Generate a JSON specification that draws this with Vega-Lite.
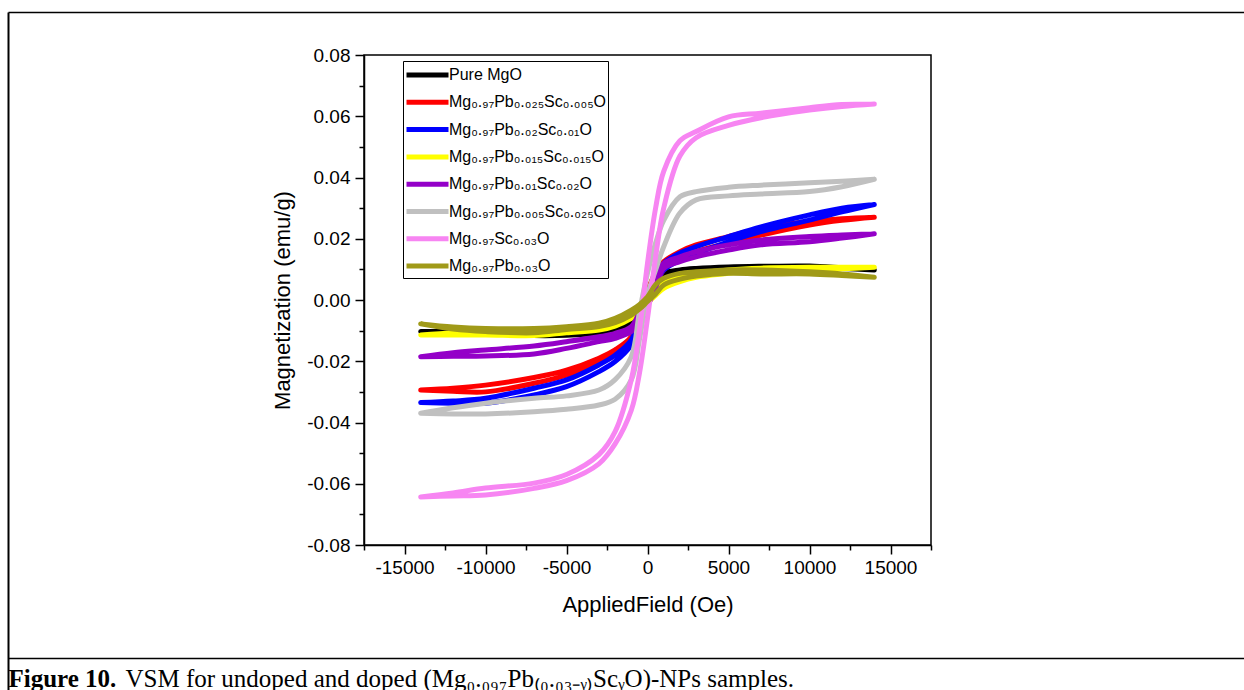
{
  "$schema": "https://vega.github.io/schema/vega-lite/v6.json",
  "width": 567,
  "height": 490,
  "autosize": {"type": "none"},
  "padding": {"left": 364, "top": 55, "right": 313, "bottom": 145},
  "background": "white",
  "config": {
    "view": {"stroke": "black", "strokeWidth": 1.5},
    "font": "Liberation Sans",
    "axis": {"grid": false, "domainColor": "black", "tickColor": "black", "labelColor": "black", "titleColor": "black", "domainWidth": 1.5, "tickWidth": 1.5, "labelFont": "Liberation Sans", "titleFont": "Liberation Sans", "titleFontWeight": "normal", "labelFontSize": 19, "titleFontSize": 22}
  },
  "datasets": {
    "vsm": [
      {"s":"a","i":0,"H":14000,"M":0.0098},{"s":"a","i":1,"H":12000,"M":0.0105},{"s":"a","i":2,"H":10000,"M":0.0111},{"s":"a","i":3,"H":7000,"M":0.011},{"s":"a","i":4,"H":5000,"M":0.0108},{"s":"a","i":5,"H":3000,"M":0.0103},{"s":"a","i":6,"H":2000,"M":0.0098},{"s":"a","i":7,"H":1000,"M":0.0087},{"s":"a","i":8,"H":500,"M":0.006},{"s":"a","i":9,"H":0,"M":0.001},{"s":"a","i":10,"H":-500,"M":-0.004},{"s":"a","i":11,"H":-1000,"M":-0.0076},{"s":"a","i":12,"H":-2000,"M":-0.009},{"s":"a","i":13,"H":-3000,"M":-0.0103},{"s":"a","i":14,"H":-5000,"M":-0.0112},{"s":"a","i":15,"H":-7000,"M":-0.0114},{"s":"a","i":16,"H":-10000,"M":-0.0105},{"s":"a","i":17,"H":-12000,"M":-0.0103},{"s":"a","i":18,"H":-14000,"M":-0.0103},
      {"s":"a","i":19,"H":-14000,"M":-0.0103},{"s":"a","i":20,"H":-12000,"M":-0.0106},{"s":"a","i":21,"H":-10000,"M":-0.0108},{"s":"a","i":22,"H":-7000,"M":-0.0116},{"s":"a","i":23,"H":-5000,"M":-0.0115},{"s":"a","i":24,"H":-3000,"M":-0.0108},{"s":"a","i":25,"H":-2000,"M":-0.0098},{"s":"a","i":26,"H":-1000,"M":-0.0085},{"s":"a","i":27,"H":-500,"M":-0.006},{"s":"a","i":28,"H":0,"M":-0.001},{"s":"a","i":29,"H":500,"M":0.004},{"s":"a","i":30,"H":1000,"M":0.0075},{"s":"a","i":31,"H":2000,"M":0.009},{"s":"a","i":32,"H":3000,"M":0.0098},{"s":"a","i":33,"H":5000,"M":0.0103},{"s":"a","i":34,"H":7000,"M":0.0105},{"s":"a","i":35,"H":10000,"M":0.0106},{"s":"a","i":36,"H":12000,"M":0.0103},{"s":"a","i":37,"H":14000,"M":0.0098},

      {"s":"b","i":0,"H":14000,"M":0.027},{"s":"b","i":1,"H":12000,"M":0.0265},{"s":"b","i":2,"H":10000,"M":0.0256},{"s":"b","i":3,"H":7000,"M":0.0234},{"s":"b","i":4,"H":5000,"M":0.0207},{"s":"b","i":5,"H":3000,"M":0.018},{"s":"b","i":6,"H":2000,"M":0.0158},{"s":"b","i":7,"H":1000,"M":0.0125},{"s":"b","i":8,"H":500,"M":0.009},{"s":"b","i":9,"H":0,"M":0.003},{"s":"b","i":10,"H":-500,"M":-0.005},{"s":"b","i":11,"H":-1000,"M":-0.012},{"s":"b","i":12,"H":-2000,"M":-0.0163},{"s":"b","i":13,"H":-3000,"M":-0.019},{"s":"b","i":14,"H":-5000,"M":-0.0229},{"s":"b","i":15,"H":-7000,"M":-0.0253},{"s":"b","i":16,"H":-10000,"M":-0.0278},{"s":"b","i":17,"H":-12000,"M":-0.0288},{"s":"b","i":18,"H":-14000,"M":-0.0294},
      {"s":"b","i":19,"H":-14000,"M":-0.0294},{"s":"b","i":20,"H":-12000,"M":-0.0298},{"s":"b","i":21,"H":-10000,"M":-0.03},{"s":"b","i":22,"H":-7000,"M":-0.0272},{"s":"b","i":23,"H":-5000,"M":-0.0245},{"s":"b","i":24,"H":-3000,"M":-0.0207},{"s":"b","i":25,"H":-2000,"M":-0.018},{"s":"b","i":26,"H":-1000,"M":-0.0136},{"s":"b","i":27,"H":-500,"M":-0.009},{"s":"b","i":28,"H":0,"M":-0.002},{"s":"b","i":29,"H":500,"M":0.005},{"s":"b","i":30,"H":1000,"M":0.0098},{"s":"b","i":31,"H":2000,"M":0.0136},{"s":"b","i":32,"H":3000,"M":0.0158},{"s":"b","i":33,"H":5000,"M":0.0186},{"s":"b","i":34,"H":7000,"M":0.0212},{"s":"b","i":35,"H":10000,"M":0.0245},{"s":"b","i":36,"H":12000,"M":0.026},{"s":"b","i":37,"H":14000,"M":0.027},

      {"s":"c","i":0,"H":14000,"M":0.0312},{"s":"c","i":1,"H":12000,"M":0.03},{"s":"c","i":2,"H":10000,"M":0.0278},{"s":"c","i":3,"H":7000,"M":0.0239},{"s":"c","i":4,"H":5000,"M":0.0207},{"s":"c","i":5,"H":3000,"M":0.0174},{"s":"c","i":6,"H":2000,"M":0.0153},{"s":"c","i":7,"H":1000,"M":0.012},{"s":"c","i":8,"H":500,"M":0.008},{"s":"c","i":9,"H":0,"M":0.002},{"s":"c","i":10,"H":-500,"M":-0.005},{"s":"c","i":11,"H":-1000,"M":-0.013},{"s":"c","i":12,"H":-2000,"M":-0.018},{"s":"c","i":13,"H":-3000,"M":-0.0212},{"s":"c","i":14,"H":-5000,"M":-0.0261},{"s":"c","i":15,"H":-7000,"M":-0.0288},{"s":"c","i":16,"H":-10000,"M":-0.0321},{"s":"c","i":17,"H":-12000,"M":-0.033},{"s":"c","i":18,"H":-14000,"M":-0.0335},
      {"s":"c","i":19,"H":-14000,"M":-0.0335},{"s":"c","i":20,"H":-12000,"M":-0.0337},{"s":"c","i":21,"H":-10000,"M":-0.0337},{"s":"c","i":22,"H":-7000,"M":-0.031},{"s":"c","i":23,"H":-5000,"M":-0.0283},{"s":"c","i":24,"H":-3000,"M":-0.0234},{"s":"c","i":25,"H":-2000,"M":-0.0201},{"s":"c","i":26,"H":-1000,"M":-0.0147},{"s":"c","i":27,"H":-500,"M":-0.009},{"s":"c","i":28,"H":0,"M":-0.002},{"s":"c","i":29,"H":500,"M":0.005},{"s":"c","i":30,"H":1000,"M":0.0098},{"s":"c","i":31,"H":2000,"M":0.013},{"s":"c","i":32,"H":3000,"M":0.0152},{"s":"c","i":33,"H":5000,"M":0.019},{"s":"c","i":34,"H":7000,"M":0.0223},{"s":"c","i":35,"H":10000,"M":0.0261},{"s":"c","i":36,"H":12000,"M":0.0288},{"s":"c","i":37,"H":14000,"M":0.0312},

      {"s":"d","i":0,"H":14000,"M":0.0107},{"s":"d","i":1,"H":12000,"M":0.0107},{"s":"d","i":2,"H":10000,"M":0.0107},{"s":"d","i":3,"H":7000,"M":0.0104},{"s":"d","i":4,"H":5000,"M":0.0098},{"s":"d","i":5,"H":3000,"M":0.0087},{"s":"d","i":6,"H":2000,"M":0.0076},{"s":"d","i":7,"H":1000,"M":0.006},{"s":"d","i":8,"H":500,"M":0.004},{"s":"d","i":9,"H":0,"M":0.0005},{"s":"d","i":10,"H":-500,"M":-0.002},{"s":"d","i":11,"H":-1000,"M":-0.0044},{"s":"d","i":12,"H":-2000,"M":-0.0071},{"s":"d","i":13,"H":-3000,"M":-0.0087},{"s":"d","i":14,"H":-5000,"M":-0.0098},{"s":"d","i":15,"H":-7000,"M":-0.0105},{"s":"d","i":16,"H":-10000,"M":-0.0105},{"s":"d","i":17,"H":-12000,"M":-0.0108},{"s":"d","i":18,"H":-14000,"M":-0.0114},
      {"s":"d","i":19,"H":-14000,"M":-0.0114},{"s":"d","i":20,"H":-12000,"M":-0.0114},{"s":"d","i":21,"H":-10000,"M":-0.0114},{"s":"d","i":22,"H":-7000,"M":-0.0116},{"s":"d","i":23,"H":-5000,"M":-0.0107},{"s":"d","i":24,"H":-3000,"M":-0.0098},{"s":"d","i":25,"H":-2000,"M":-0.0085},{"s":"d","i":26,"H":-1000,"M":-0.006},{"s":"d","i":27,"H":-500,"M":-0.004},{"s":"d","i":28,"H":0,"M":-0.001},{"s":"d","i":29,"H":500,"M":0.0015},{"s":"d","i":30,"H":1000,"M":0.0038},{"s":"d","i":31,"H":2000,"M":0.006},{"s":"d","i":32,"H":3000,"M":0.0074},{"s":"d","i":33,"H":5000,"M":0.0087},{"s":"d","i":34,"H":7000,"M":0.0098},{"s":"d","i":35,"H":10000,"M":0.0098},{"s":"d","i":36,"H":12000,"M":0.0102},{"s":"d","i":37,"H":14000,"M":0.0107},

      {"s":"e","i":0,"H":14000,"M":0.0216},{"s":"e","i":1,"H":12000,"M":0.0212},{"s":"e","i":2,"H":10000,"M":0.0207},{"s":"e","i":3,"H":7000,"M":0.0196},{"s":"e","i":4,"H":5000,"M":0.018},{"s":"e","i":5,"H":3000,"M":0.0158},{"s":"e","i":6,"H":2000,"M":0.0141},{"s":"e","i":7,"H":1000,"M":0.012},{"s":"e","i":8,"H":500,"M":0.008},{"s":"e","i":9,"H":0,"M":0.002},{"s":"e","i":10,"H":-500,"M":-0.004},{"s":"e","i":11,"H":-1000,"M":-0.0087},{"s":"e","i":12,"H":-2000,"M":-0.0109},{"s":"e","i":13,"H":-3000,"M":-0.012},{"s":"e","i":14,"H":-5000,"M":-0.0136},{"s":"e","i":15,"H":-7000,"M":-0.015},{"s":"e","i":16,"H":-10000,"M":-0.0163},{"s":"e","i":17,"H":-12000,"M":-0.0172},{"s":"e","i":18,"H":-14000,"M":-0.0185},
      {"s":"e","i":19,"H":-14000,"M":-0.0185},{"s":"e","i":20,"H":-12000,"M":-0.0184},{"s":"e","i":21,"H":-10000,"M":-0.0183},{"s":"e","i":22,"H":-7000,"M":-0.0176},{"s":"e","i":23,"H":-5000,"M":-0.0158},{"s":"e","i":24,"H":-3000,"M":-0.0136},{"s":"e","i":25,"H":-2000,"M":-0.0125},{"s":"e","i":26,"H":-1000,"M":-0.0103},{"s":"e","i":27,"H":-500,"M":-0.007},{"s":"e","i":28,"H":0,"M":-0.002},{"s":"e","i":29,"H":500,"M":0.004},{"s":"e","i":30,"H":1000,"M":0.0103},{"s":"e","i":31,"H":2000,"M":0.0125},{"s":"e","i":32,"H":3000,"M":0.0141},{"s":"e","i":33,"H":5000,"M":0.0163},{"s":"e","i":34,"H":7000,"M":0.018},{"s":"e","i":35,"H":10000,"M":0.019},{"s":"e","i":36,"H":12000,"M":0.0202},{"s":"e","i":37,"H":14000,"M":0.0216},

      {"s":"f","i":0,"H":14000,"M":0.0394},{"s":"f","i":1,"H":12000,"M":0.0388},{"s":"f","i":2,"H":10000,"M":0.0383},{"s":"f","i":3,"H":7000,"M":0.0375},{"s":"f","i":4,"H":5000,"M":0.0368},{"s":"f","i":5,"H":3000,"M":0.0354},{"s":"f","i":6,"H":2000,"M":0.0337},{"s":"f","i":7,"H":1000,"M":0.026},{"s":"f","i":8,"H":500,"M":0.0186},{"s":"f","i":9,"H":0,"M":0.0088},{"s":"f","i":10,"H":-500,"M":-0.004},{"s":"f","i":11,"H":-1000,"M":-0.0185},{"s":"f","i":12,"H":-2000,"M":-0.026},{"s":"f","i":13,"H":-3000,"M":-0.0294},{"s":"f","i":14,"H":-5000,"M":-0.0313},{"s":"f","i":15,"H":-7000,"M":-0.0321},{"s":"f","i":16,"H":-10000,"M":-0.0337},{"s":"f","i":17,"H":-12000,"M":-0.0352},{"s":"f","i":18,"H":-14000,"M":-0.037},
      {"s":"f","i":19,"H":-14000,"M":-0.037},{"s":"f","i":20,"H":-12000,"M":-0.0372},{"s":"f","i":21,"H":-10000,"M":-0.0372},{"s":"f","i":22,"H":-7000,"M":-0.0365},{"s":"f","i":23,"H":-5000,"M":-0.0357},{"s":"f","i":24,"H":-3000,"M":-0.0343},{"s":"f","i":25,"H":-2000,"M":-0.0324},{"s":"f","i":26,"H":-1000,"M":-0.0261},{"s":"f","i":27,"H":-500,"M":-0.013},{"s":"f","i":28,"H":0,"M":0.0016},{"s":"f","i":29,"H":500,"M":0.0098},{"s":"f","i":30,"H":1000,"M":0.0174},{"s":"f","i":31,"H":2000,"M":0.0284},{"s":"f","i":32,"H":3000,"M":0.0327},{"s":"f","i":33,"H":5000,"M":0.034},{"s":"f","i":34,"H":7000,"M":0.0346},{"s":"f","i":35,"H":10000,"M":0.0354},{"s":"f","i":36,"H":12000,"M":0.037},{"s":"f","i":37,"H":14000,"M":0.0394},

      {"s":"g","i":0,"H":14000,"M":0.064},{"s":"g","i":1,"H":12000,"M":0.0638},{"s":"g","i":2,"H":10000,"M":0.0628},{"s":"g","i":3,"H":7000,"M":0.061},{"s":"g","i":4,"H":5000,"M":0.0598},{"s":"g","i":5,"H":3000,"M":0.055},{"s":"g","i":6,"H":2000,"M":0.052},{"s":"g","i":7,"H":1000,"M":0.042},{"s":"g","i":8,"H":500,"M":0.03},{"s":"g","i":9,"H":0,"M":0.012},{"s":"g","i":10,"H":-500,"M":-0.01},{"s":"g","i":11,"H":-1000,"M":-0.026},{"s":"g","i":12,"H":-2000,"M":-0.043},{"s":"g","i":13,"H":-3000,"M":-0.0505},{"s":"g","i":14,"H":-5000,"M":-0.057},{"s":"g","i":15,"H":-7000,"M":-0.0598},{"s":"g","i":16,"H":-10000,"M":-0.0614},{"s":"g","i":17,"H":-12000,"M":-0.063},{"s":"g","i":18,"H":-14000,"M":-0.0643},
      {"s":"g","i":19,"H":-14000,"M":-0.0643},{"s":"g","i":20,"H":-12000,"M":-0.064},{"s":"g","i":21,"H":-10000,"M":-0.0637},{"s":"g","i":22,"H":-7000,"M":-0.0615},{"s":"g","i":23,"H":-5000,"M":-0.059},{"s":"g","i":24,"H":-3000,"M":-0.0535},{"s":"g","i":25,"H":-2000,"M":-0.047},{"s":"g","i":26,"H":-1000,"M":-0.036},{"s":"g","i":27,"H":-500,"M":-0.024},{"s":"g","i":28,"H":0,"M":-0.006},{"s":"g","i":29,"H":500,"M":0.014},{"s":"g","i":30,"H":1000,"M":0.03},{"s":"g","i":31,"H":2000,"M":0.047},{"s":"g","i":32,"H":3000,"M":0.053},{"s":"g","i":33,"H":5000,"M":0.057},{"s":"g","i":34,"H":7000,"M":0.0595},{"s":"g","i":35,"H":10000,"M":0.062},{"s":"g","i":36,"H":12000,"M":0.0632},{"s":"g","i":37,"H":14000,"M":0.064},

      {"s":"h","i":0,"H":14000,"M":0.0074},{"s":"h","i":1,"H":12000,"M":0.0085},{"s":"h","i":2,"H":10000,"M":0.0092},{"s":"h","i":3,"H":7000,"M":0.0098},{"s":"h","i":4,"H":5000,"M":0.0098},{"s":"h","i":5,"H":3000,"M":0.0092},{"s":"h","i":6,"H":2000,"M":0.0087},{"s":"h","i":7,"H":1000,"M":0.0071},{"s":"h","i":8,"H":500,"M":0.005},{"s":"h","i":9,"H":0,"M":0.001},{"s":"h","i":10,"H":-500,"M":-0.0015},{"s":"h","i":11,"H":-1000,"M":-0.0033},{"s":"h","i":12,"H":-2000,"M":-0.006},{"s":"h","i":13,"H":-3000,"M":-0.0076},{"s":"h","i":14,"H":-5000,"M":-0.0087},{"s":"h","i":15,"H":-7000,"M":-0.0093},{"s":"h","i":16,"H":-10000,"M":-0.0093},{"s":"h","i":17,"H":-12000,"M":-0.0088},{"s":"h","i":18,"H":-14000,"M":-0.0078},
      {"s":"h","i":19,"H":-14000,"M":-0.0078},{"s":"h","i":20,"H":-12000,"M":-0.0095},{"s":"h","i":21,"H":-10000,"M":-0.0103},{"s":"h","i":22,"H":-7000,"M":-0.0107},{"s":"h","i":23,"H":-5000,"M":-0.0096},{"s":"h","i":24,"H":-3000,"M":-0.0087},{"s":"h","i":25,"H":-2000,"M":-0.0074},{"s":"h","i":26,"H":-1000,"M":-0.0049},{"s":"h","i":27,"H":-500,"M":-0.003},{"s":"h","i":28,"H":0,"M":-0.0005},{"s":"h","i":29,"H":500,"M":0.002},{"s":"h","i":30,"H":1000,"M":0.0049},{"s":"h","i":31,"H":2000,"M":0.0068},{"s":"h","i":32,"H":3000,"M":0.0078},{"s":"h","i":33,"H":5000,"M":0.0087},{"s":"h","i":34,"H":7000,"M":0.0085},{"s":"h","i":35,"H":10000,"M":0.0085},{"s":"h","i":36,"H":12000,"M":0.008},{"s":"h","i":37,"H":14000,"M":0.0074}
    ]
  },
  "layer": [
    {
      "mark": {"type": "rule", "opacity": 0},
      "encoding": {
        "x": {"datum": 0, "type": "quantitative", "scale": {"domain": [0, 1], "range": [-356, 880]},
          "axis": {"orient": "top", "offset": 43, "ticks": false, "labels": false, "title": null, "domainWidth": 1.5}},
        "y": {"datum": 0, "type": "quantitative", "scale": {"domain": [0, 1], "range": [635, -43]},
          "axis": {"orient": "left", "offset": 356, "ticks": false, "labels": false, "title": null, "domainWidth": 2}}
      }
    },
    {
      "mark": {"type": "rule", "opacity": 0},
      "encoding": {
        "x": {"datum": 0, "type": "quantitative", "scale": {"domain": [0, 1], "range": [-356, 880]},
          "axis": {"orient": "bottom", "offset": 113, "ticks": false, "labels": false, "title": null, "domainWidth": 1.5}}
      }
    },
    {
      "mark": {"type": "rule", "color": "black", "strokeWidth": 1.5},
      "encoding": {
        "x": {"datum": 0, "type": "quantitative", "scale": {"domain": [-17500, 17500], "nice": false, "zero": false},
          "axis": {"orient": "bottom", "values": [-17500, -12500, -7500, -2500, 2500, 7500, 12500, 17500], "tickSize": 5, "labels": false, "domain": false,
            "title": "VSM for undoped and doped (Mg₀.₀₉₇Pb₍₀.₀₃₋ᵧ₎ScᵧO)-NPs samples.", "titleFont": "Liberation Serif", "titleFontSize": 25, "titleFontWeight": "normal",
            "titleAlign": "left", "titleAnchor": "start", "titleBaseline": "alphabetic", "titleX": -239, "titleY": 141}}
      }
    },
    {
      "mark": {"type": "rule", "color": "black", "strokeWidth": 1.5},
      "encoding": {
        "y": {"datum": 0, "type": "quantitative", "scale": {"domain": [-0.08, 0.08], "nice": false, "zero": false},
          "axis": {"orient": "left", "values": [-0.07, -0.05, -0.03, -0.01, 0.01, 0.03, 0.05, 0.07], "tickSize": 5, "labels": false, "domain": false,
            "title": "Figure 10.", "titleFont": "Liberation Serif", "titleFontSize": 25, "titleFontWeight": "bold", "titleAngle": 0,
            "titleAlign": "left", "titleAnchor": "start", "titleBaseline": "alphabetic", "titleX": -356, "titleY": 631}}
      }
    },
    {
      "data": {"name": "vsm"},
      "mark": {"type": "line", "strokeWidth": 5, "strokeCap": "round", "strokeJoin": "round", "interpolate": "catmull-rom"},
      "encoding": {
        "x": {"field": "H", "type": "quantitative", "scale": {"domain": [-17500, 17500], "nice": false, "zero": false},
          "axis": {"orient": "bottom", "values": [-15000, -10000, -5000, 0, 5000, 10000, 15000], "tickSize": 9, "labelPadding": 4, "labelExpr": "replace(format(datum.value, 'd'), '\u2212', '-')", "title": "AppliedField (Oe)", "titlePadding": 17}},
        "y": {"field": "M", "type": "quantitative", "scale": {"domain": [-0.08, 0.08], "nice": false, "zero": false},
          "axis": {"orient": "left", "values": [-0.08, -0.06, -0.04, -0.02, 0, 0.02, 0.04, 0.06, 0.08], "tickSize": 9, "labelPadding": 5, "labelExpr": "replace(format(datum.value, '.2f'), '\u2212', '-')", "title": "Magnetization (emu/g)", "titlePadding": 12}},
        "color": {"field": "s", "type": "nominal",
          "scale": {"domain": ["a","b","c","d","e","f","g","h"], "range": ["#000000","#ff0000","#0000ff","#ffff00","#9400c8","#c0c0c0","#f785f2","#a09a18"]},
          "legend": {"title": null, "orient": "none", "legendX": 39, "legendY": 6, "symbolType": "M-1,0H3", "symbolSize": 441, "symbolStrokeWidth": 5, "symbolFillColor": "transparent", "strokeColor": "black", "fillColor": "white", "padding": 1, "rowPadding": 4.3, "labelFontSize": 16, "labelOffset": 19, "labelLimit": 0, "labelColor": "black", "labelFont": "Liberation Sans",
            "labelExpr": "{'a':'Pure MgO','b':'Mg₀.₉₇Pb₀.₀₂₅Sc₀.₀₀₅O','c':'Mg₀.₉₇Pb₀.₀₂Sc₀.₀₁O','d':'Mg₀.₉₇Pb₀.₀₁₅Sc₀.₀₁₅O','e':'Mg₀.₉₇Pb₀.₀₁Sc₀.₀₂O','f':'Mg₀.₉₇Pb₀.₀₀₅Sc₀.₀₂₅O','g':'Mg₀.₉₇Sc₀.₀₃O','h':'Mg₀.₉₇Pb₀.₀₃O'}[datum.value]"}},
        "order": {"field": "i", "type": "quantitative"}
      }
    }
  ],
  "resolve": {"scale": {"x": "independent", "y": "independent"}, "axis": {"x": "independent", "y": "independent"}}
}
